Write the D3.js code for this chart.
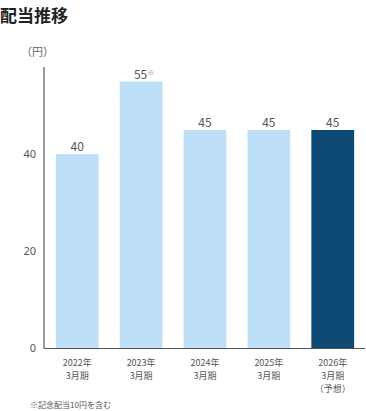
<!DOCTYPE html>
<html>
<head>
<meta charset="utf-8">
<script src="https://d3js.org/d3.v7.min.js"></script>
<style>
  body { margin: 0; background: #fff; font-family: "Noto Sans CJK JP", "Noto Sans", sans-serif; }
</style>
</head>
<body>
<svg id="chart" width="366" height="411"></svg>
<script>
// Data
const years = ['2022年', '2023年', '2024年', '2025年', '2026年'];
const periods = ['3月期', '3月期', '3月期', '3月期', '3月期'];
const notes = ['', '', '', '', '（予想）'];
const dividends = [40, 55, 45, 45, 45];
const forecast = [false, false, false, false, true];
const valueMarks = ['', '※', '', '', ''];
const yTicks = [0, 20, 40];

const svg = d3.select('#chart');
const W = 366, H = 411;
const m = { left: 44, right: 1, top: 67, bottom: 63 };
const base = H - m.bottom;

const x = d3.scaleBand()
  .domain(d3.range(years.length))
  .range([m.left + 1, W - m.right])
  .paddingInner(0.33)
  .paddingOuter(0.17);

const y = d3.scaleLinear().domain([0, 58]).range([base, m.top]);

// Title
svg.append('text')
  .attr('x', 0).attr('y', 22)
  .text('配当推移')
  .attr('font-size', 17)
  .attr('font-weight', 700)
  .attr('fill', '#222');

// Unit
svg.append('text')
  .attr('x', 21).attr('y', 56)
  .text('（円）')
  .attr('font-size', 11)
  .attr('fill', '#666');

// Bars
svg.selectAll('rect.bar')
  .data(dividends).enter().append('rect')
  .attr('class', 'bar')
  .attr('x', (d, i) => x(i))
  .attr('width', x.bandwidth())
  .attr('y', d => y(d))
  .attr('height', d => base - y(d))
  .attr('fill', (d, i) => forecast[i] ? '#0e4a74' : '#bde0f8');

// Value labels
const vl = svg.selectAll('text.val')
  .data(dividends).enter().append('text')
  .attr('class', 'val')
  .attr('x', (d, i) => x(i) + x.bandwidth() / 2 + (valueMarks[i] ? 3 : 0))
  .attr('y', d => y(d) - 3)
  .attr('text-anchor', 'middle')
  .attr('font-size', 12)
  .attr('fill', '#555');
vl.append('tspan').text(d => d);
vl.append('tspan')
  .text((d, i) => valueMarks[i])
  .attr('font-size', 7)
  .attr('dy', -4)
  .attr('fill', '#999');

// Y axis
const yAxis = svg.append('g')
  .attr('transform', `translate(${m.left},0)`)
  .call(d3.axisLeft(y).tickValues(yTicks).tickSize(0).tickPadding(8));
yAxis.select('.domain').remove();
yAxis.selectAll('text')
  .attr('font-size', 11)
  .attr('fill', '#555')
  .attr('font-family', '"Noto Sans", sans-serif');

svg.append('line')
  .attr('x1', m.left).attr('x2', m.left)
  .attr('y1', m.top).attr('y2', base + 0.5)
  .attr('stroke', '#555').attr('stroke-width', 1.2);
svg.append('line')
  .attr('x1', m.left).attr('x2', W - m.right)
  .attr('y1', base + 0.5).attr('y2', base + 0.5)
  .attr('stroke', '#555').attr('stroke-width', 1.2);

// X labels
const xl = svg.selectAll('text.xl')
  .data(years).enter().append('text')
  .attr('class', 'xl')
  .attr('x', (d, i) => x(i) + x.bandwidth() / 2)
  .attr('y', base + 18)
  .attr('text-anchor', 'middle')
  .attr('font-size', 9)
  .attr('fill', '#555');
xl.append('tspan').text(d => d);
xl.append('tspan')
  .attr('x', (d, i) => x(i) + x.bandwidth() / 2)
  .attr('dy', 13)
  .text((d, i) => periods[i]);
xl.append('tspan')
  .attr('x', (d, i) => x(i) + x.bandwidth() / 2)
  .attr('dy', 13)
  .text((d, i) => notes[i]);

// Footnote
svg.append('text')
  .attr('x', 30).attr('y', 408)
  .text('※記念配当10円を含む')
  .attr('font-size', 8)
  .attr('fill', '#555');
</script>
</body>
</html>
